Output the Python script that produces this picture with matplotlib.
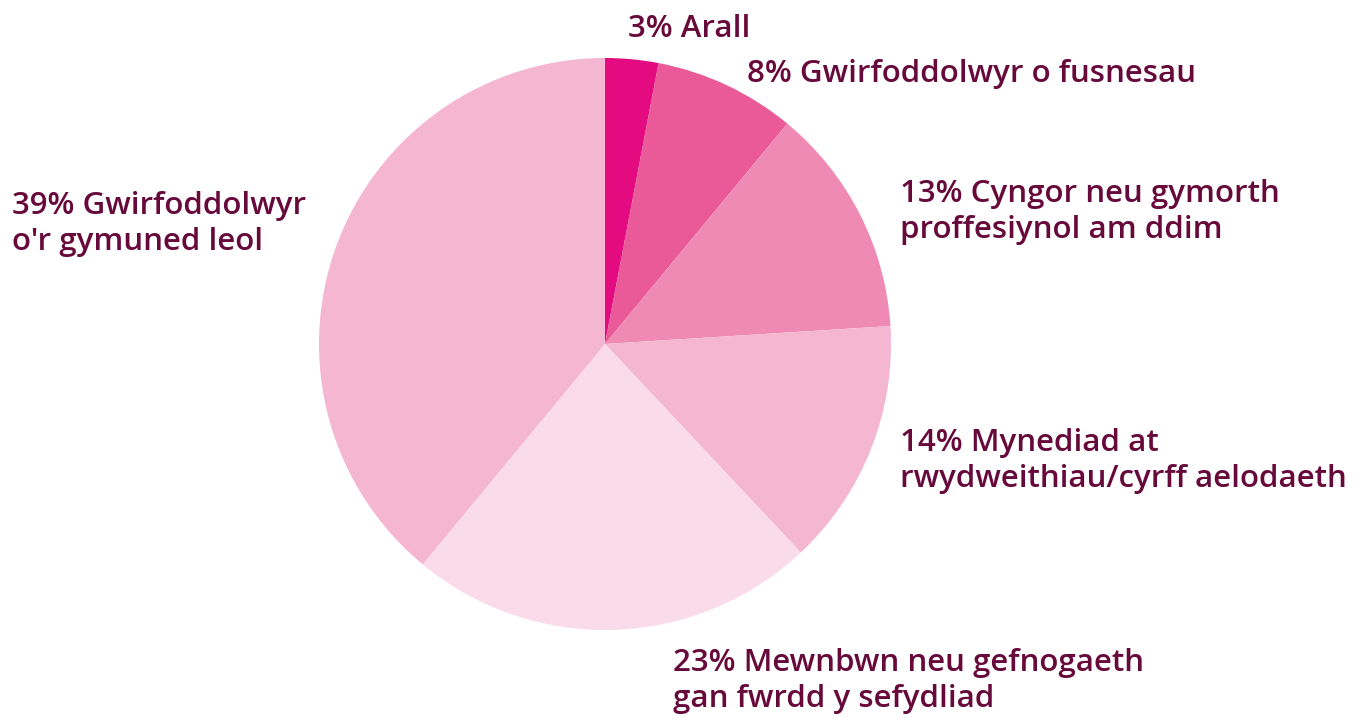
import matplotlib
matplotlib.use("Agg")
import matplotlib.pyplot as plt

values = [3, 8, 13, 14, 23, 39]
labels = ["3% Arall",
          "8% Gwirfoddolwyr o fusnesau",
          "13% Cyngor neu gymorth\nproffesiynol am ddim",
          "14% Mynediad at\nrwydweithiau/cyrff aelodaeth",
          "23% Mewnbwn neu gefnogaeth\ngan fwrdd y sefydliad",
          "39% Gwirfoddolwyr\no'r gymuned leol"]
colors = ["#E30B7F", "#EA5A98", "#EF8AB4", "#F5B6D1", "#F9DBE9", "#F5B6D2"]
label_pos = [(628, 29), (747, 74), (900, 212), (900, 461), (673, 681), (12, 224)]

W, H = 1360, 718
fig = plt.figure(figsize=(W/100, H/100), dpi=100)
cx, cy, r = 605, 344, 286
ax = fig.add_axes([(cx - r)/W, (H - cy - r)/H, 2*r/W, 2*r/H])
ax.pie(values, colors=colors, startangle=90, counterclock=False, radius=1,
       wedgeprops=dict(linewidth=0))
ax.set_xlim(-1, 1); ax.set_ylim(-1, 1)
ax.set_aspect('equal')
ax.axis('off')

for lab, (x, y) in zip(labels, label_pos):
    fig.text(x/W, 1 - y/H, lab, ha='left', va='center', fontsize=22.5,
             fontfamily='Open Sans', fontweight='semibold', color='#67093A',
             linespacing=1.28)

fig.savefig("out.png", dpi=100, facecolor='white')
